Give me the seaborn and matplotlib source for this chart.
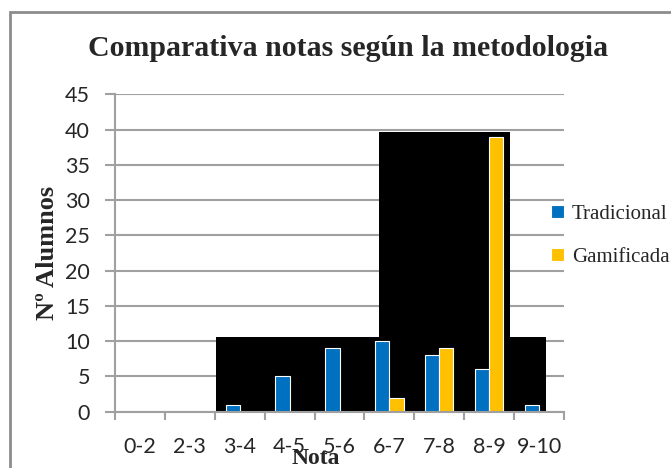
import pandas as pd
import seaborn as sns
import matplotlib.pyplot as plt
from matplotlib.patches import Rectangle

# data
notas = ["0-2", "2-3", "3-4", "4-5", "5-6", "6-7", "7-8", "8-9", "9-10"]
tradicional = [0, 0, 1, 5, 9, 10, 8, 6, 1]
gamificada = [0, 0, 0, 0, 0, 2, 9, 39, 0]

# black blocks behind the bars (start/end in category units, height in alumnos)
bloque_inicio = [1.53, 4.80]
bloque_fin = [8.13, 7.42]
bloque_altura = [10.6, 39.7]

df = pd.DataFrame({
    "Nota": notas * 2,
    "Alumnos": tradicional + gamificada,
    "Metodo": ["Tradicional"] * len(notas) + ["Gamificada"] * len(notas),
})

sns.set_style("white")

fig = plt.figure(figsize=(6.71, 4.68), dpi=100)
ax = fig.add_axes([115 / 671, 1 - 411.7 / 468, 449 / 671, (411.7 - 94.3) / 468])

grey = "#a0a0a0"
ax.set_axisbelow(True)
ax.yaxis.grid(True, color=grey, linewidth=1.5)

for x0, x1, h in zip(bloque_inicio, bloque_fin, bloque_altura):
    ax.bar(x0, h, width=x1 - x0, align="edge", color="black", linewidth=0, zorder=0.8)

sns.barplot(data=df, x="Nota", y="Alumnos", hue="Metodo",
            palette={"Tradicional": "#0070c0", "Gamificada": "#ffc000"},
            width=0.57, ax=ax, zorder=2, linewidth=0.8, saturation=1)

for cont, ec in zip(ax.containers, ["#00508a", "#b88a00"]):
    for p in cont:
        p.set_edgecolor(ec)

ax.set_xlim(-0.5, 8.5)
ax.set_ylim(0, 45)
ax.set_yticks(range(0, 46, 5))
ax.set_xticks(range(len(notas)))
ax.set_xticklabels(notas)
ax.set_xticks([i - 0.5 for i in range(len(notas) + 1)], minor=True)

for lab in ax.get_xticklabels() + ax.get_yticklabels():
    lab.set_fontfamily("Lato")
    lab.set_fontsize(15.5)
ax.tick_params(axis="x", which="major", length=0, pad=18)
ax.tick_params(axis="x", which="minor", length=6, width=1.5, color=grey, bottom=True)
ax.tick_params(axis="y", length=7, width=1.5, color=grey, left=True, pad=11)

for side in ["top", "right"]:
    ax.spines[side].set_visible(False)
for side in ["left", "bottom"]:
    ax.spines[side].set_color(grey)
    ax.spines[side].set_linewidth(1.5)

ax.set_xlabel("")
ax.set_ylabel("")
fig.text(47 / 671, 1 - 253 / 468, "Nº Alumnos", rotation=90, ha="center", va="center",
         family="Liberation Serif", weight="bold", size=19)
fig.text(316 / 671, 1 - 464 / 468, "Nota", ha="center", va="baseline",
         family="Liberation Serif", weight="bold", size=17)
fig.text(348 / 671, 1 - 56 / 468, "Comparativa notas según la metodologia", ha="center",
         va="baseline", family="Liberation Serif", weight="bold", size=21.5)

ax.legend(loc="upper left", bbox_to_anchor=(551 / 671, 1 - 205 / 468),
          bbox_transform=fig.transFigure, frameon=False,
          prop=dict(family="Liberation Serif", size=15),
          handlelength=0.6, handleheight=0.6, handletextpad=0.4,
          labelspacing=1.15, borderpad=0, borderaxespad=0)

# outer frame of the chart
fig.add_artist(Rectangle((10 / 671, -0.1), 1.0, 1.1 - 12 / 468, transform=fig.transFigure,
                         fill=False, edgecolor="#8c8c8c", linewidth=2))

fig.savefig("out.png", dpi=100)
